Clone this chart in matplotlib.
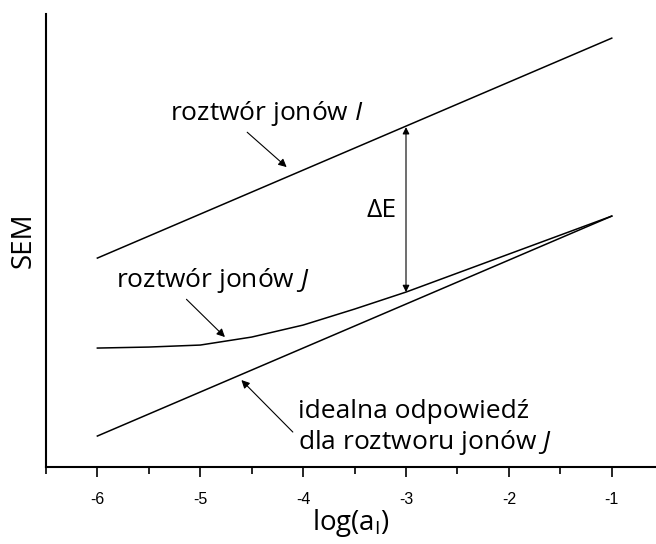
import matplotlib
matplotlib.use('Agg')
import matplotlib.pyplot as plt
from matplotlib.ticker import MultipleLocator

plt.rcParams['font.family'] = ['Open Sans', 'DejaVu Sans']
plt.rcParams['mathtext.fontset'] = 'custom'
plt.rcParams['mathtext.rm'] = 'Open Sans'
plt.rcParams['mathtext.it'] = 'Open Sans:italic'

# dane (jednostki umowne)
x_line = [-6, -1]
sem_I = [209, 429]
sem_ideal = [31, 251]
x_J = [-6, -5.5, -5, -4.5, -4, -3.5, -3, -2, -1]
sem_J = [119, 120, 122, 130, 142, 158, 175, 213, 251]
xticks = [-6, -5, -4, -3, -2, -1]

fig = plt.figure(figsize=(6.56, 5.44), dpi=100)
ax = fig.add_axes([0.070, 0.1415, 0.93, 0.8325])

ax.plot(x_line, sem_I, color='black', lw=1.1)
ax.plot(x_J, sem_J, color='black', lw=1.1)
ax.plot(x_line, sem_ideal, color='black', lw=1.1)

ax.set_xlim(-6.5, -0.57)
ax.set_ylim(0, 453)

ax.spines['top'].set_visible(False)
ax.spines['right'].set_visible(False)
ax.spines['left'].set_linewidth(1.5)
ax.spines['bottom'].set_linewidth(1.5)
ax.set_yticks([])
ax.set_xticks(xticks)
ax.set_xticklabels([str(t) for t in xticks], family='Liberation Sans', fontsize=11.5)
ax.xaxis.set_minor_locator(MultipleLocator(0.5))
ax.tick_params(axis='x', which='major', direction='out', length=7, width=1.2, pad=11)
ax.tick_params(axis='x', which='minor', direction='out', length=5, width=1.2)

ax.set_xlabel('log(a$_\\mathrm{I}$)', fontsize=20, labelpad=0)
ax.set_ylabel('SEM', fontsize=20, labelpad=6)

arr = dict(arrowstyle='-|>', color='black', lw=0.8, mutation_scale=12)
ax.annotate('roztwór jonów $\\it{I}$', xy=(-4.16, 300), xytext=(-4.35, 354),
            ha='center', va='center', fontsize=19,
            arrowprops=dict(arr, shrinkA=2, shrinkB=0, relpos=(0.37, 0)))
ax.annotate('roztwór jonów $\\it{J}$', xy=(-4.76, 130), xytext=(-4.88, 187),
            ha='center', va='center', fontsize=19,
            arrowprops=dict(arr, shrinkA=2, shrinkB=0, relpos=(0.34, 0)))
ax.annotate('', xy=(-4.60, 87), xytext=(-4.10, 35), arrowprops=dict(arr, shrinkA=0, shrinkB=0))
ax.text(-4.05, 56, 'idealna odpowiedź', ha='left', va='center', fontsize=19)
ax.text(-4.05, 25, 'dla roztworu jonów $\\it{J}$', ha='left', va='center', fontsize=19)

ax.annotate('', xy=(-3, 340), xytext=(-3, 175),
            arrowprops=dict(arrowstyle='<|-|>', color='black', lw=0.8,
                            mutation_scale=10, shrinkA=0, shrinkB=0))
ax.text(-3.24, 257, 'ΔE', ha='center', va='center', fontsize=19)

fig.savefig('out.png', dpi=100)
